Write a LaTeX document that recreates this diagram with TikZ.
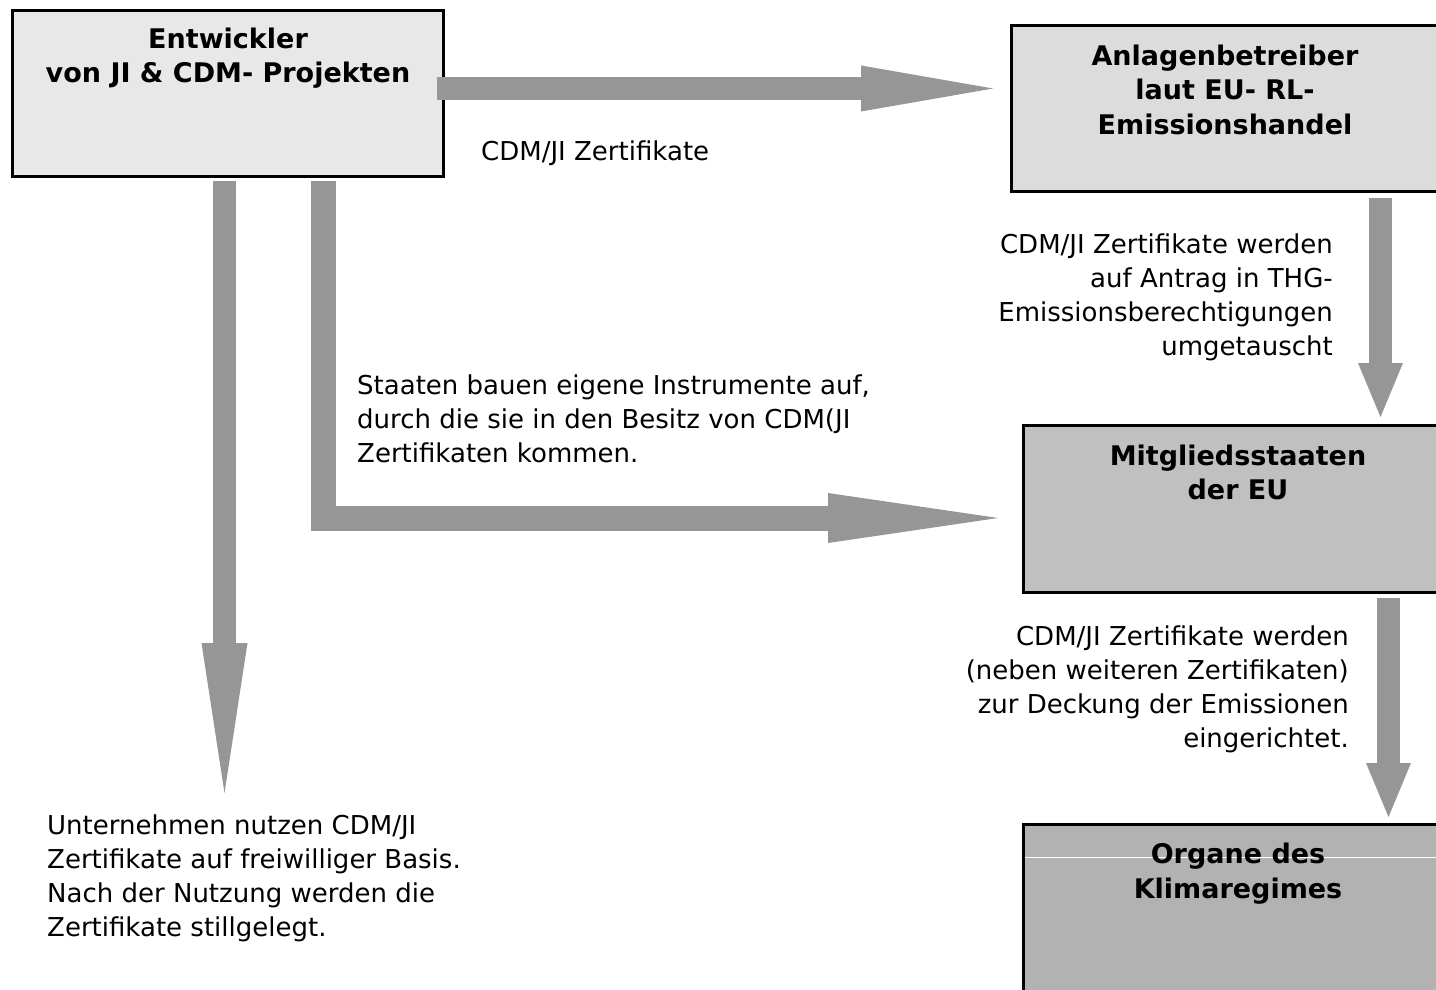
\documentclass[tikz,border=0pt]{standalone}
\usepackage{fontspec}
\setmainfont{DejaVu Sans}
\usetikzlibrary{arrows.meta}

\definecolor{arrowgray}{gray}{0.588}
\definecolor{fillA}{gray}{0.91}
\definecolor{fillB}{gray}{0.863}
\definecolor{fillC}{gray}{0.753}
\definecolor{fillD}{gray}{0.698}

\tikzset{
  box/.style={draw=black, line width=3pt, inner sep=0pt, anchor=north west},
  title/.style={font=\bfseries\fontsize{27}{34.5}\selectfont, align=center,
    anchor=base, inner sep=0pt},
  note/.style={font=\fontsize{26}{34}\selectfont, inner sep=0pt},
  flow/.style={draw=arrowgray, line width=23pt, line join=miter},
}

\begin{document}
\begin{tikzpicture}[x=1pt,y=-1pt]
  \useasboundingbox (0,0) rectangle (1436,990);
  \fill[white] (0,0) rectangle (1436,990);

  % boxes
  \node[box, fill=fillA, minimum width=431pt, minimum height=166pt] (dev) at (11,9) {};
  \node[box, fill=fillB, minimum width=500pt, minimum height=166pt] (op) at (1010,24) {};
  \node[box, fill=fillC, minimum width=500pt, minimum height=167pt] (ms) at (1022,424) {};
  \node[box, fill=fillD, minimum width=500pt, minimum height=300pt] (org) at (1022,823) {};
  \draw[white, line width=1pt] (1025,857) -- (1440,857);

  % box titles (anchored at the baseline of their last line)
  \node[title] (devt) at (228,83) {Entwickler\\von JI \& CDM- Projekten};
  \node[title] (opt) at (1225,134) {Anlagenbetreiber\\laut EU- RL-\\Emissionshandel};
  \node[title] (mst) at (1238,499.5) {Mitgliedsstaaten\\der EU};
  \node[title] (orgt) at (1238,898) {Organe des\\Klimaregimes};

  % arrow end points
  \coordinate (t1) at (993,88.5);
  \coordinate (t2) at (1380.5,417);
  \coordinate (t3) at (1388.5,817);
  \coordinate (t4) at (224.5,793);
  \coordinate (bend) at (323.5,518);
  \coordinate (t5) at (998,518);

  % block arrows
  \draw[flow, -{Triangle[width=46pt,length=132pt,line width=0pt]}]
    ([xshift=-8pt]dev.east |- t1) -- (t1);
  \draw[flow, -{Triangle[width=45pt,length=54pt,line width=0pt]}]
    ([yshift=-5pt]op.south -| t2) -- (t2);
  \draw[flow, -{Triangle[width=45pt,length=54pt,line width=0pt]}]
    ([yshift=-4pt]ms.south -| t3) -- (t3);
  \draw[flow, -{Triangle[width=46pt,length=150pt,line width=0pt]}]
    ([yshift=-3pt]dev.south -| t4) -- (t4);
  \draw[flow, line width=25pt, -{Triangle[width=50pt,length=170pt,line width=0pt]}]
    ([yshift=-3pt]dev.south -| bend) -- (bend) -- (t5);

  % labels (anchored at the baseline of their last line)
  \node[note, anchor=base west, align=left] (l1) at (481,160) {CDM/JI Zertifikate};
  \node[note, anchor=base west, align=left] (l2) at (357,462)
    {Staaten bauen eigene Instrumente auf,\\durch die sie in den Besitz von CDM(JI\\Zertifikaten kommen.};
  \node[note, anchor=base east, align=right] (l3) at (1333,355)
    {CDM/JI Zertifikate werden\\auf Antrag in THG-\\Emissionsberechtigungen\\umgetauscht};
  \node[note, anchor=base east, align=right] (l4) at (1349,747)
    {CDM/JI Zertifikate werden\\(neben weiteren Zertifikaten)\\zur Deckung der Emissionen\\eingerichtet.};
  \node[note, anchor=base west, align=left] (l5) at (47,936)
    {Unternehmen nutzen CDM/JI\\Zertifikate auf freiwilliger Basis.\\Nach der Nutzung werden die\\Zertifikate stillgelegt.};
\end{tikzpicture}
\end{document}
